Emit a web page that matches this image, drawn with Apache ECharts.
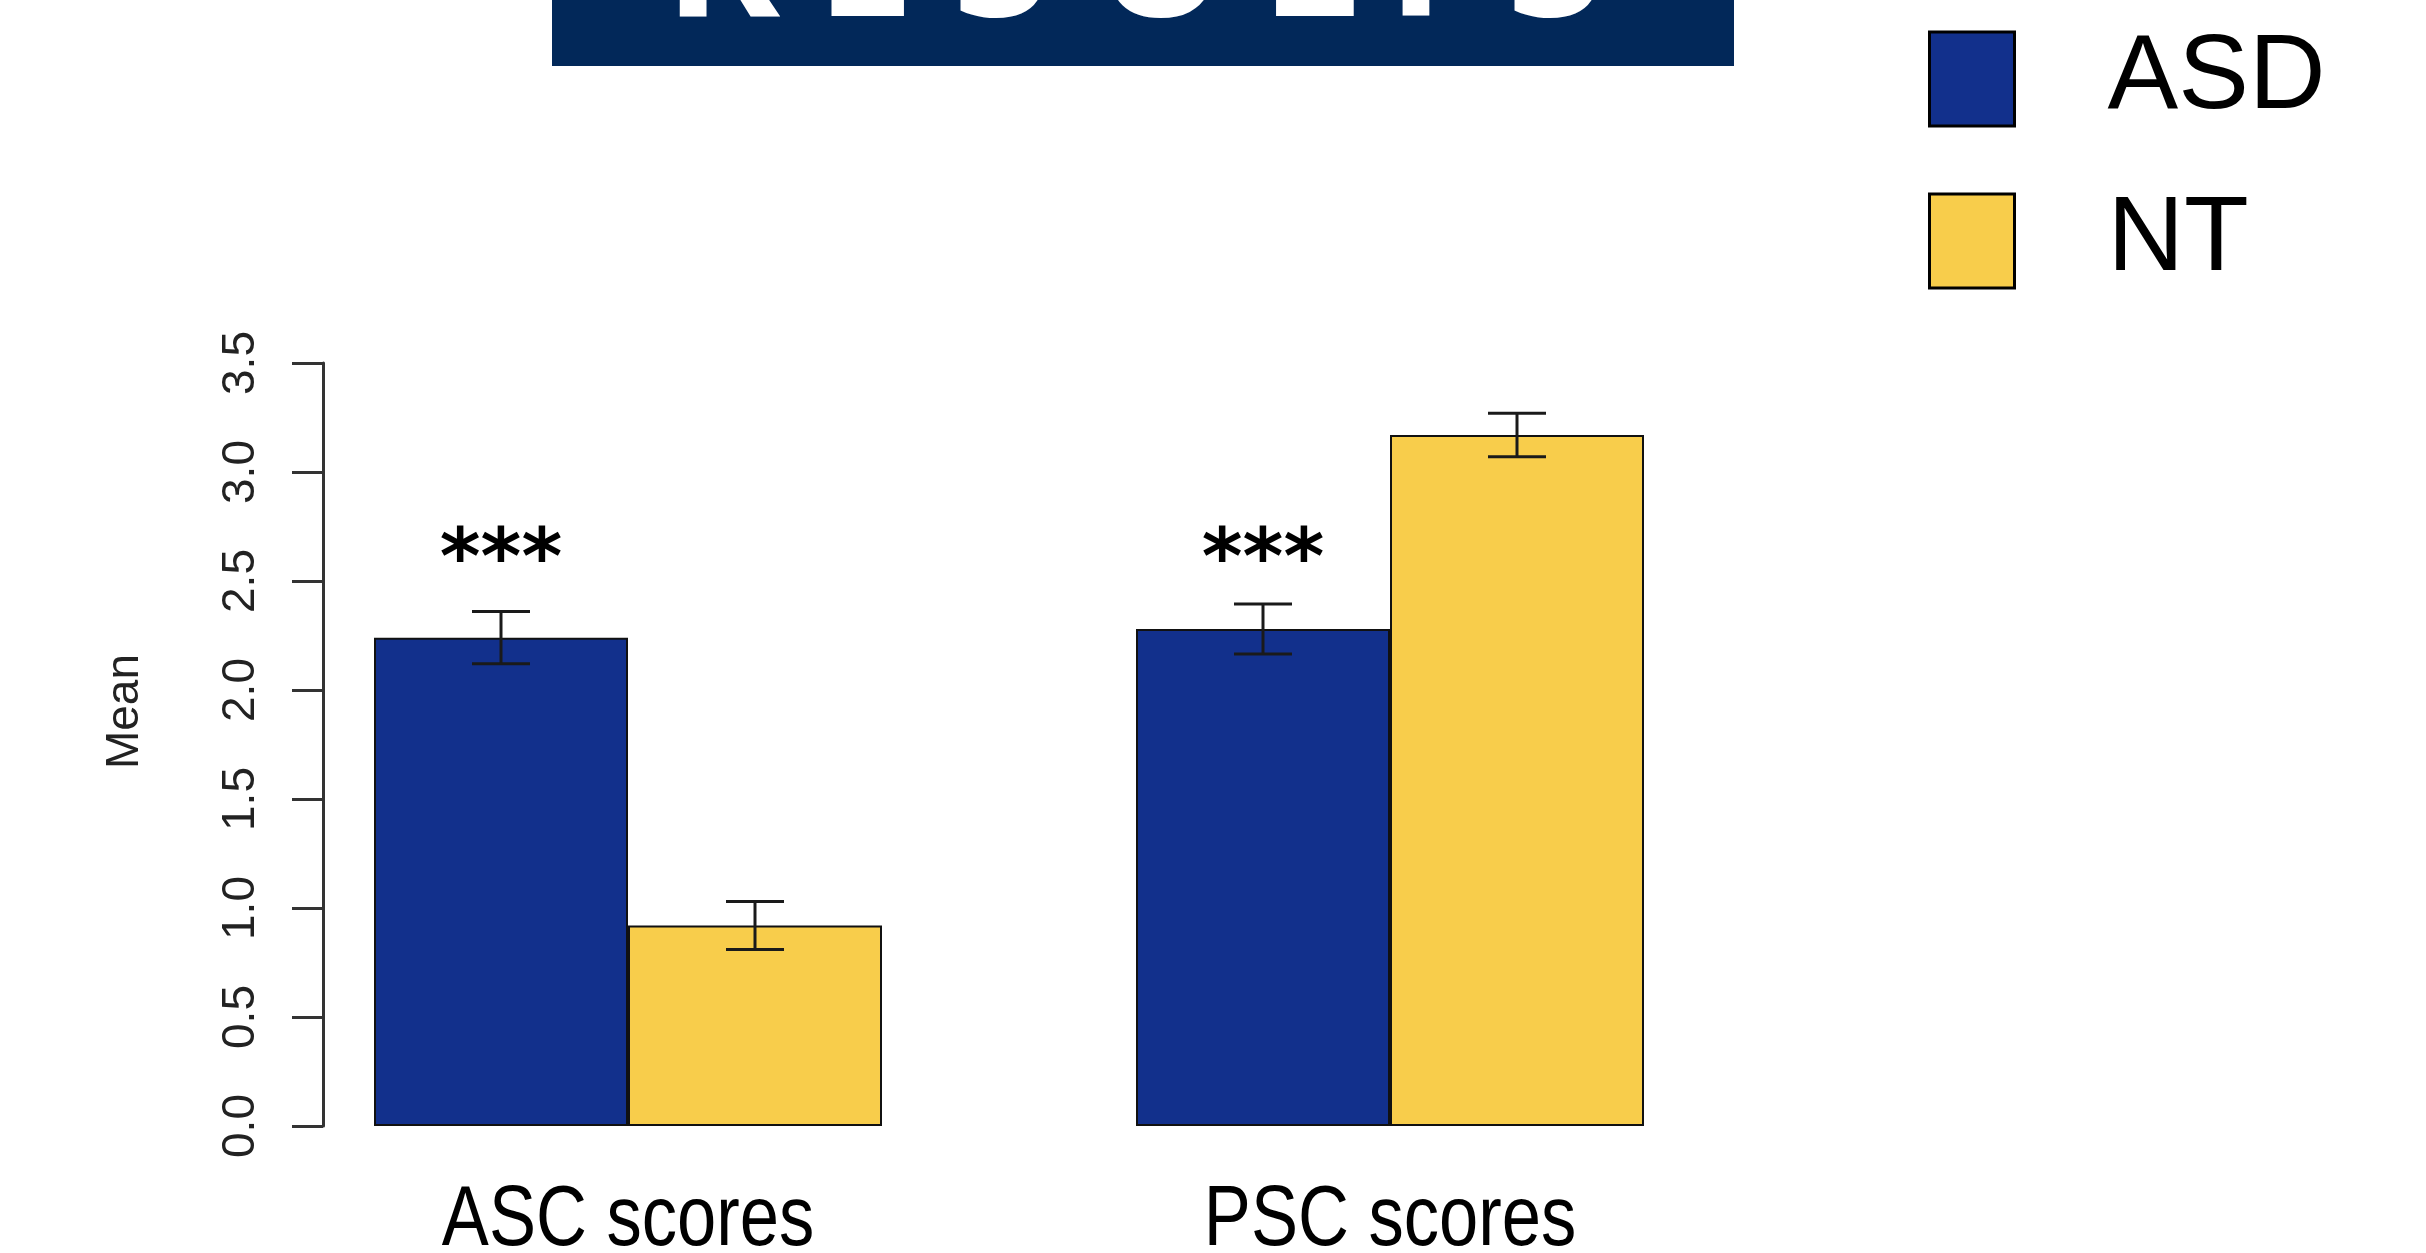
<!DOCTYPE html>
<html>
<head>
<meta charset="utf-8">
<script src="https://cdn.jsdelivr.net/npm/echarts@6/dist/echarts.min.js"></script>
<style>
  html, body { margin: 0; padding: 0; background: #fff; }
  #chart { width: 2426px; height: 1253px; }
</style>
</head>
<body>
<div id="chart"></div>
<script>
// values
const categories = ['ASC scores', 'PSC scores']
const groups = ['ASD', 'NT']
const asdMean = [2.24, 2.28]
const ntMean = [0.92, 3.17]
const asdErr = [0.12, 0.115]
const ntErr = [0.11, 0.10]
const sigMarks = ['***', '***']
const sigLevel = [2.67, 2.67]
const yMin = 0
const yMax = 3.5
const yStep = 0.5
const titleLetters = ['R', 'E', 'S', 'U', 'L', 'T', 'S']
const titleCenters = [722, 865, 1001, 1161, 1310, 1416, 1555]

const colors = {
  asd: '#12308c',
  nt: '#f8cd4b',
  banner: '#022859',
  ink: '#111'
}

const barWidth = 254
const capWidth = 58

const chart = echarts.init(document.getElementById('chart'))

// error bars drawn on top of each bar, side -1 = ASD (left), +1 = NT (right)
function renderErr(params, api) {
  const i = api.value(0)
  const m = api.value(1)
  const e = api.value(2)
  const side = api.value(3)
  const hi = api.coord([i, m + e])
  const lo = api.coord([i, m - e])
  const x = hi[0] + side * barWidth / 2
  const style = { stroke: '#1a1a1a', lineWidth: 3 }
  return {
    type: 'group',
    children: [
      { type: 'line', shape: { x1: x, y1: hi[1], x2: x, y2: lo[1] }, style },
      { type: 'line', shape: { x1: x - capWidth / 2, y1: hi[1], x2: x + capWidth / 2, y2: hi[1] }, style },
      { type: 'line', shape: { x1: x - capWidth / 2, y1: lo[1], x2: x + capWidth / 2, y2: lo[1] }, style }
    ]
  }
}

function renderSig(params, api) {
  const p = api.coord([api.value(0), api.value(1)])
  return {
    type: 'text',
    x: p[0] - barWidth / 2,
    y: p[1] + 20,
    style: {
      text: sigMarks[params.dataIndex],
      fill: '#000',
      font: 'bold 78px "DejaVu Sans"',
      align: 'center',
      verticalAlign: 'middle'
    }
  }
}

// category names, squeezed horizontally like the condensed face in the original
function renderCat(params, api) {
  const p = api.coord([api.value(0), 0])
  return {
    type: 'text',
    x: p[0],
    y: p[1] + 95,
    scaleX: 0.82,
    style: {
      text: categories[params.dataIndex],
      fill: '#000',
      font: '86px "Liberation Sans"',
      align: 'center',
      verticalAlign: 'middle'
    }
  }
}

const errData = []
categories.forEach((c, i) => {
  errData.push([i, asdMean[i], asdErr[i], -1])
  errData.push([i, ntMean[i], ntErr[i], 1])
})

const option = {
  animation: false,
  backgroundColor: '#fff',
  graphic: [
    {
      type: 'rect',
      shape: { x: 552, y: 0, width: 1182, height: 66 },
      style: { fill: colors.banner },
      z: 10
    },
    ...titleLetters.map((ch, k) => ({
      type: 'text',
      x: titleCenters[k],
      y: -34,
      z: 11,
      style: {
        text: ch,
        fill: '#fff',
        font: 'bold 176px "Open Sans"',
        align: 'center',
        verticalAlign: 'middle'
      }
    }))
  ],
  legend: {
    data: groups,
    orient: 'vertical',
    left: 1923,
    top: 21,
    icon: 'rect',
    itemWidth: 85,
    itemHeight: 94,
    itemGap: 56,
    itemStyle: { borderColor: '#000', borderWidth: 3 },
    textStyle: {
      fontFamily: 'Liberation Sans',
      fontSize: 106,
      color: '#000',
      padding: [0, 0, 0, 88]
    }
  },
  grid: {
    left: 247,
    right: 655,
    top: 363,
    bottom: 127
  },
  xAxis: {
    type: 'category',
    data: categories,
    axisLine: { show: false },
    axisTick: { show: false },
    axisLabel: { show: false }
  },
  yAxis: {
    type: 'value',
    min: yMin,
    max: yMax,
    interval: yStep,
    offset: -76,
    name: 'Mean',
    nameLocation: 'middle',
    nameRotate: 90,
    nameGap: 175,
    nameTextStyle: {
      fontFamily: 'Liberation Sans',
      fontSize: 46,
      color: '#222',
      padding: [0, 0, 0, 66]
    },
    axisLine: { show: true, lineStyle: { color: '#333', width: 3 } },
    axisTick: { show: true, length: 31, lineStyle: { color: '#333', width: 3 } },
    splitLine: { show: false },
    axisLabel: {
      rotate: 90,
      margin: 59,
      fontFamily: 'Liberation Sans',
      fontSize: 46,
      color: '#222',
      formatter: v => v.toFixed(1)
    }
  },
  series: [
    {
      name: 'ASD',
      type: 'bar',
      data: asdMean,
      barWidth: barWidth,
      barGap: '0%',
      itemStyle: { color: colors.asd, borderColor: colors.ink, borderWidth: 2 }
    },
    {
      name: 'NT',
      type: 'bar',
      data: ntMean,
      barWidth: barWidth,
      barGap: '0%',
      itemStyle: { color: colors.nt, borderColor: colors.ink, borderWidth: 2 }
    },
    {
      type: 'custom',
      renderItem: renderErr,
      data: errData,
      z: 5
    },
    {
      type: 'custom',
      renderItem: renderSig,
      data: categories.map((c, i) => [i, sigLevel[i]]),
      z: 5
    },
    {
      type: 'custom',
      renderItem: renderCat,
      data: categories.map((c, i) => [i]),
      clip: false,
      z: 5
    }
  ]
}

chart.setOption(option)
</script>
</body>
</html>
